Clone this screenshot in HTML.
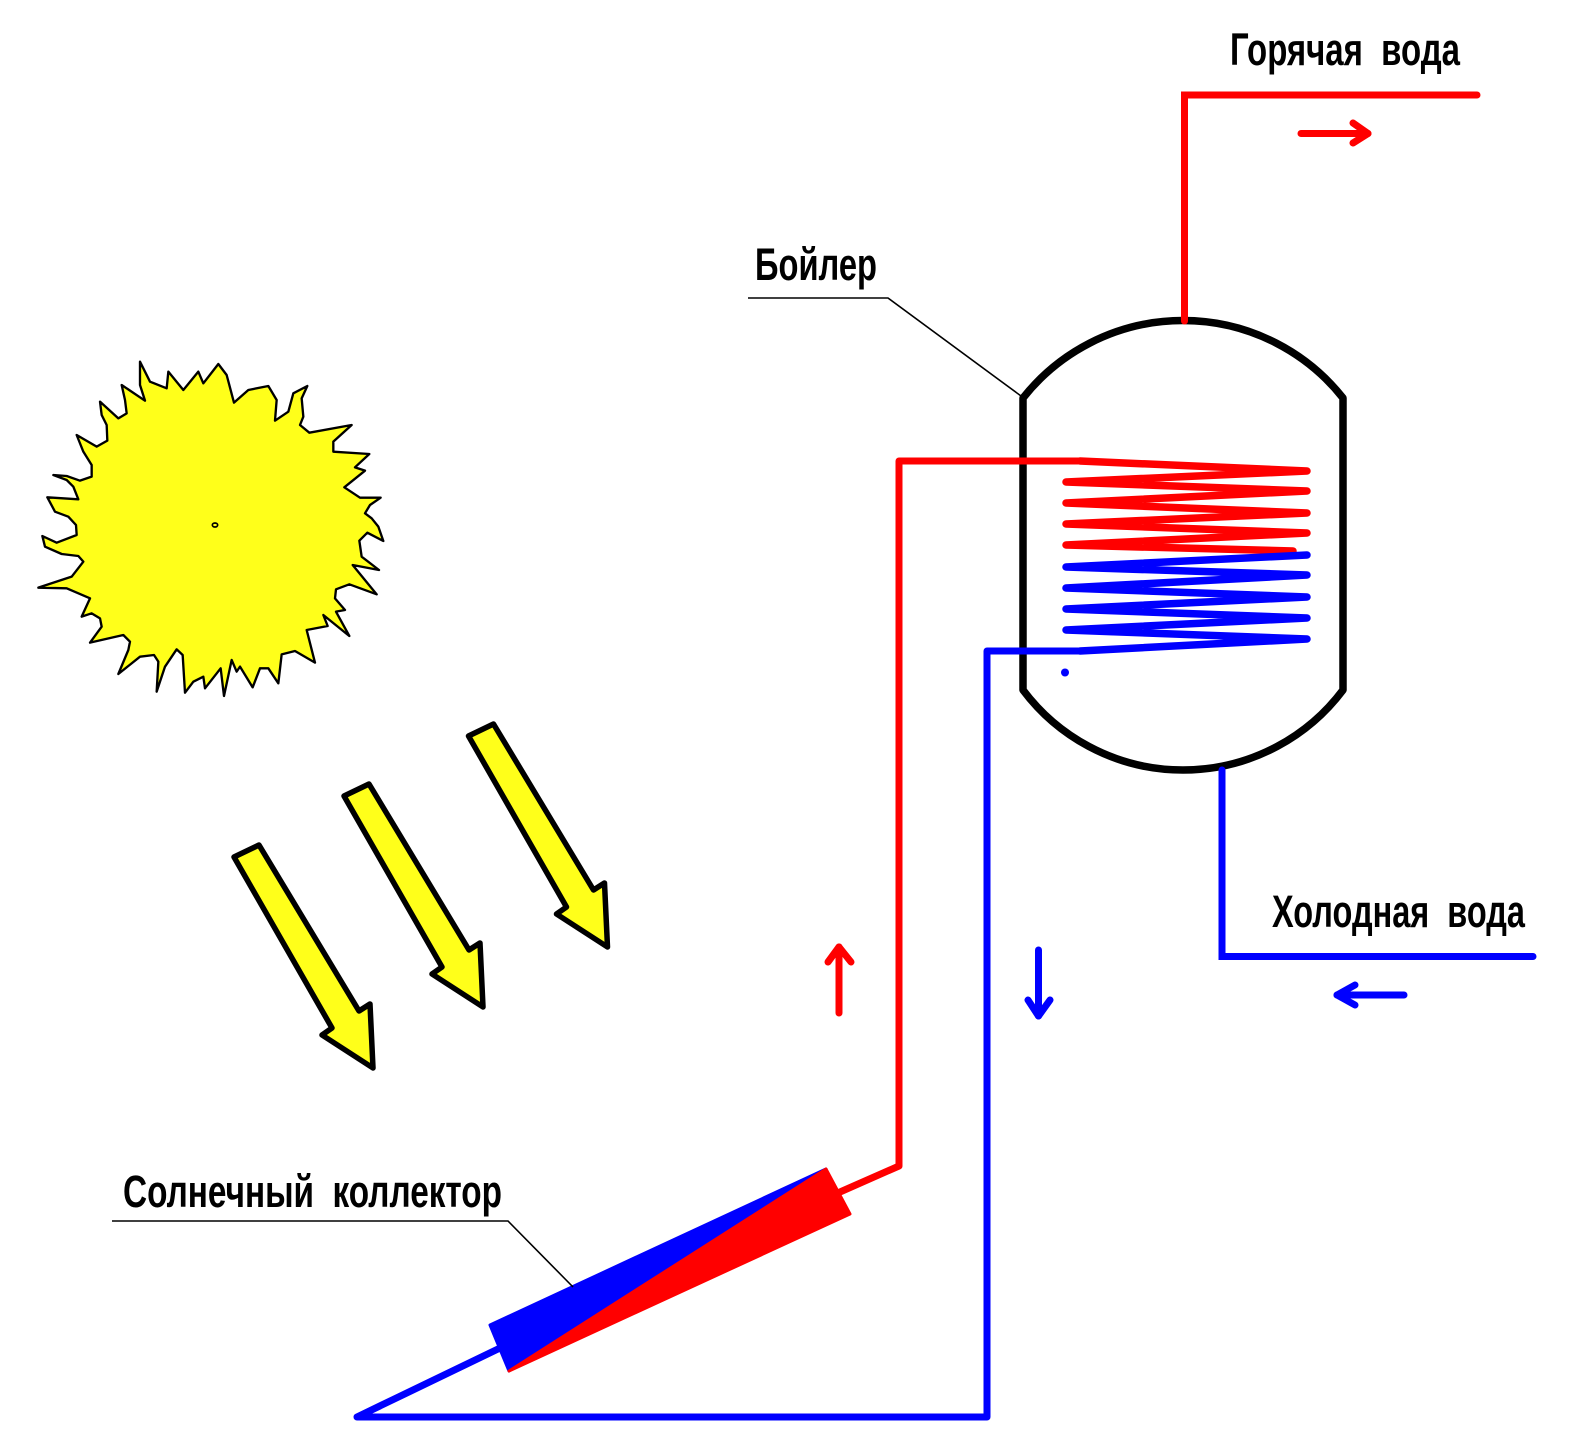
<!DOCTYPE html>
<html>
<head>
<meta charset="utf-8">
<style>
  html, body { margin:0; padding:0; background:#fff; }
  body { width:1576px; height:1430px; overflow:hidden; }
  svg { display:block; }
  .lbl { font-family: "Liberation Sans", "Noto Sans CJK SC", sans-serif; font-weight:bold; font-size:45px; fill:#000; }
</style>
</head>
<body>
<svg width="1576" height="1430" viewBox="0 0 1576 1430" xmlns="http://www.w3.org/2000/svg">
  <rect width="1576" height="1430" fill="#fff"/>

  <!-- Sun -->
  <g transform="translate(30,350) scale(0.33333)">
    <polygon fill="#ffff1a" stroke="#000" stroke-width="7" stroke-linejoin="round"
      points="330,35 360,95 410,115 415,65 460,120 505,65 520,100 565,42 590,75 612,158 655,120 715,108 740,150 735,212 775,185 790,130 832,108 815,145 820,200 810,225 838,248 965,225 910,275 910,305 1018,312 975,352 1005,362 943,412 990,443 1052,443 1020,465 1005,490 1025,505 1045,530 1060,573 1012,548 988,572 995,620 1047,660 968,645 1040,733 958,703 918,718 915,745 945,780 918,785 958,858 880,795 893,828 830,840 855,938 795,903 755,913 745,1000 715,955 690,955 668,1012 630,950 620,965 605,930 582,1038 572,955 525,1015 520,980 490,995 465,1028 458,915 440,898 405,950 380,1025 385,935 372,915 330,920 265,972 295,900 300,875 280,855 180,878 215,830 210,805 185,790 155,800 180,745 110,715 25,713 125,680 160,635 145,618 95,612 45,590 37,558 80,578 140,555 138,525 115,500 75,485 52,442 145,448 130,410 110,390 70,375 110,378 150,392 185,380 185,345 160,305 140,255 200,290 232,272 230,225 215,195 210,155 265,205 290,190 285,150 275,105 345,152 330,105"/>
    <ellipse cx="555" cy="525" rx="8" ry="6" fill="none" stroke="#000" stroke-width="5"/>
  </g>

  <!-- Yellow ray arrows -->
  <g fill="#ffff1a" stroke="#000" stroke-width="5.5" stroke-linejoin="round">
    <polygon points="234,857 259,845 359,1011 370,1004 373,1068 322,1035 332,1028"/>
    <polygon points="234,857 259,845 359,1011 370,1004 373,1068 322,1035 332,1028" transform="translate(110,-61)"/>
    <polygon points="234,857 259,845 359,1011 370,1004 373,1068 322,1035 332,1028" transform="translate(234.5,-121)"/>
  </g>

  <!-- Boiler -->
  <path d="M1023,398 A204,204 0 0 1 1343,398 L1343,690 A200,200 0 0 1 1023,690 Z"
        fill="none" stroke="#000" stroke-width="7.5" stroke-linejoin="round"/>

  <!-- Hot water outlet -->
  <polyline points="1184.5,321 1184.5,95 1477,95" fill="none" stroke="#ff0000" stroke-width="7" stroke-linecap="round" stroke-linejoin="miter"/>
  <!-- Cold water inlet -->
  <polyline points="1222,770 1222,956.5 1533,956.5" fill="none" stroke="#0000ff" stroke-width="7" stroke-linecap="round" stroke-linejoin="miter"/>

  <!-- Red circuit -->
  <polyline points="840,1192 899,1166 899,461 1080,461"
            fill="none" stroke="#ff0000" stroke-width="7" stroke-linecap="round" stroke-linejoin="round"/>
  <!-- Red coil -->
  <polyline points="1080,461 1307,471 1066,482 1307,491 1066,503 1307,513 1066,524 1307,533 1066,545 1293,551"
            fill="none" stroke="#ff0000" stroke-width="7.5" stroke-linecap="round" stroke-linejoin="round"/>
  <!-- Blue coil -->
  <polyline points="1307,555 1066,567 1307,575 1066,588 1307,597 1066,609 1307,618 1066,630 1307,639 1080,651"
            fill="none" stroke="#0000ff" stroke-width="7.5" stroke-linecap="round" stroke-linejoin="round"/>
  <!-- Blue circuit -->
  <polyline points="1080,651 987,651 987,1417 357,1417 498,1349"
            fill="none" stroke="#0000ff" stroke-width="7" stroke-linecap="round" stroke-linejoin="round"/>
  <circle cx="1065" cy="672.5" r="4" fill="#0000ff"/>

  <!-- Collector -->
  <g stroke-linejoin="round">
    <polygon points="490,1325 826,1169 509,1371" fill="#0000ff" stroke="#0000ff" stroke-width="3"/>
    <polygon points="509,1371 826,1169 850,1214" fill="#ff0000" stroke="#ff0000" stroke-width="3"/>
  </g>

  <!-- Flow arrows -->
  <g fill="none" stroke-width="7" stroke-linecap="round" stroke-linejoin="round">
    <polyline points="1301,133.5 1368,133.5" stroke="#ff0000"/>
    <polyline points="1353,123 1368,133.5 1353,143" stroke="#ff0000"/>
    <polyline points="1404,995 1337,995" stroke="#0000ff"/>
    <polyline points="1355,985 1337,995 1355,1005" stroke="#0000ff"/>
    <polyline points="839,1013 839,947" stroke="#ff0000"/>
    <polyline points="828,962 839,947 851,962" stroke="#ff0000"/>
    <polyline points="1038.5,950 1038.5,1016" stroke="#0000ff"/>
    <polyline points="1028,1000 1038.5,1016 1050,1000" stroke="#0000ff"/>
  </g>

  <!-- Leaders -->
  <polyline points="748,298 888,298 1021,396" fill="none" stroke="#000" stroke-width="1.6"/>
  <polyline points="112,1221 508,1221 573,1287" fill="none" stroke="#000" stroke-width="1.6"/>

  <!-- Labels -->
  <text class="lbl" x="1230" y="65" textLength="230" lengthAdjust="spacingAndGlyphs" xml:space="preserve">Горячая  вода</text>
  <text class="lbl" x="1272" y="927" textLength="253" lengthAdjust="spacingAndGlyphs" xml:space="preserve">Холодная  вода</text>
  <text class="lbl" x="755" y="280" textLength="122" lengthAdjust="spacingAndGlyphs">Бойлер</text>
  <text class="lbl" x="123" y="1207" textLength="379" lengthAdjust="spacingAndGlyphs" xml:space="preserve">Солнечный  коллектор</text>
</svg>
</body>
</html>
